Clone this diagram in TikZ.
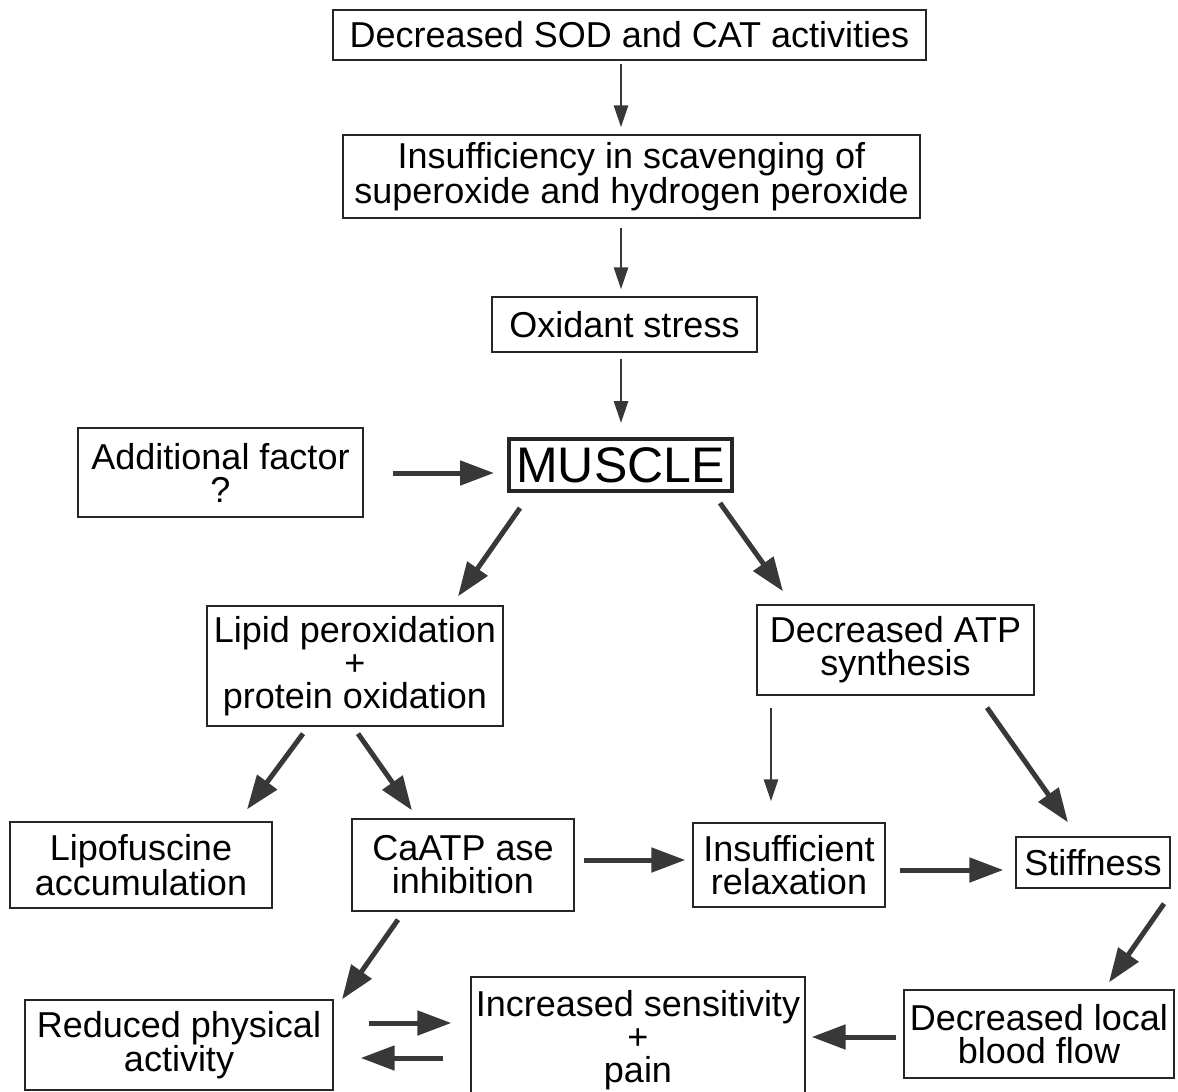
\documentclass[tikz,border=0pt]{standalone}
\usepackage{fontspec}
\setmainfont{Liberation Sans}
\usetikzlibrary{arrows.meta}
\definecolor{arrgray}{gray}{0.22}

\tikzset{
  box/.style={draw=black!85, line width=1.3pt, align=center, inner sep=0pt,
    font=\fontsize{36}{33}\selectfont},
  bigarr/.style={draw=arrgray, line width=5pt, -{Triangle[length=34pt,width=24pt]}},
  thinarr/.style={draw=arrgray, line width=2.8pt, -{Triangle[length=22pt,width=14pt]}}
}

\begin{document}
\begin{tikzpicture}[x=1pt,y=-1pt]
    % Page frame
    \path[use as bounding box, fill=white] (0,0) rectangle (1178,1092);

    % Top chain
    \node[box, minimum width=593pt, minimum height=50pt] (sod) at (629.5,35) {Decreased SOD and CAT activities};
    \node[box, minimum width=577pt, minimum height=83pt] (scav) at (631.5,176.5) {Insufficiency in scavenging of\\superoxide and hydrogen peroxide};
    \node[box, minimum width=265pt, minimum height=55pt] (oxi) at (624.5,324.5) {Oxidant stress};
    \node[box, line width=4pt, minimum width=223pt, minimum height=52pt, font=\fontsize{50}{50}\selectfont] (muscle) at (620.5,465) {MUSCLE};
    \node[box, minimum width=285pt, minimum height=89pt] (add) at (220.5,472.5) {Additional factor\\?};

    % Second level
    \node[box, minimum width=296pt, minimum height=120pt] (lipid) at (355,666) {Lipid peroxidation\\+\\protein oxidation};
    \node[box, minimum width=277pt, minimum height=90pt] (atp) at (895.5,650) {Decreased ATP\\synthesis};

    % Third level
    \node[box, minimum width=262pt, minimum height=86pt] (lipo) at (141,865) {Lipofuscine\\accumulation};
    \node[box, minimum width=222pt, minimum height=92pt] (caatp) at (463,865) {CaATP ase\\inhibition};
    \node[box, minimum width=192pt, minimum height=84pt] (relax) at (789,865) {Insufficient\\relaxation};
    \node[box, minimum width=154pt, minimum height=51pt] (stiff) at (1093,862.5) {Stiffness};

    % Bottom level (sensitivity box runs off the lower edge)
    \node[box, minimum width=308pt, minimum height=90pt] (reduced) at (179,1045) {Reduced physical\\activity};
    \node[box, minimum width=334pt, minimum height=126pt] (sens) at (638,1040) {Increased sensitivity\\+\\pain};
    \node[box, minimum width=270pt, minimum height=88pt] (blood) at (1039,1034) {Decreased local\\blood flow};

    % Arrows down the top chain
    \draw[thinarr] ([shift={(-8.5,3)}]sod.south) -- ([shift={(-10.5,-7)}]scav.north);
    \draw[thinarr] ([shift={(-10.5,9)}]scav.south) -- ([shift={(-3.5,-7)}]oxi.north);
    \draw[thinarr] ([shift={(-3.5,6)}]oxi.south) -- ([shift={(0.5,-14)}]muscle.north);
    \draw[bigarr] ([shift={(29,0.5)}]add.east) -- ([shift={(-13,8)}]muscle.west);

    % Arrows out of the muscle
    \draw[bigarr] ([shift={(-100.5,15)}]muscle.south) -- ([shift={(103,-9)}]lipid.north);
    \draw[bigarr] ([shift={(99.5,10)}]muscle.south) -- ([shift={(-112.5,-13)}]atp.north);

    % Left branch
    \draw[bigarr] ([shift={(-52,7)}]lipid.south) -- ([shift={(106,-12)}]lipo.north);
    \draw[bigarr] ([shift={(3,7)}]lipid.south) -- ([shift={(-51,-8)}]caatp.north);
    \draw[bigarr] ([shift={(-65,8)}]caatp.south) -- ([shift={(163,0)}]reduced.north);

    % Right branch
    \draw[thinarr] ([shift={(-124.5,12)}]atp.south) -- ([shift={(-18,-21)}]relax.north);
    \draw[bigarr] ([shift={(91.5,12)}]atp.south) -- ([shift={(-25,-14)}]stiff.north);
    \draw[bigarr] ([shift={(9,-5)}]caatp.east) -- ([shift={(-7,-5)}]relax.west);
    \draw[bigarr] ([shift={(14,5)}]relax.east) -- ([shift={(-12,7.5)}]stiff.west);
    \draw[bigarr] ([shift={(71,15)}]stiff.south) -- ([shift={(70,-7)}]blood.north);

    % Bottom row
    \draw[bigarr] ([shift={(-7,3)}]blood.west) -- ([shift={(6,-3)}]sens.east);
    \draw[bigarr] ([shift={(35,-22)}]reduced.east) -- ([shift={(-19,-17)}]sens.west);
    \draw[bigarr] ([shift={(-27,18)}]sens.west) -- ([shift={(27,13)}]reduced.east);
\end{tikzpicture}
\end{document}
